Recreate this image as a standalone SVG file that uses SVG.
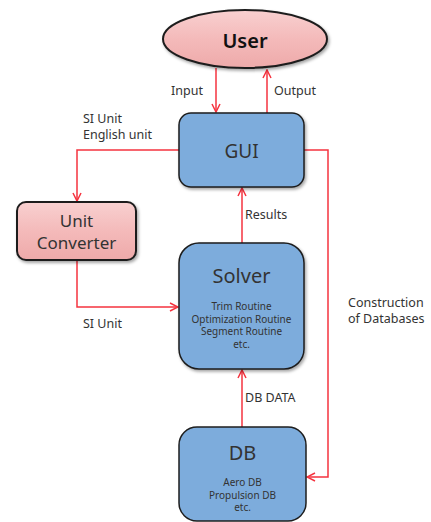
<svg xmlns="http://www.w3.org/2000/svg" width="431" height="522" viewBox="0 0 431 522">
<style>
.blue{fill:#7dacdc;stroke:#1e1e1e;stroke-width:1.5}
.pink{stroke:#1e1e1e;stroke-width:2}
.t{font-family:"Noto Sans","Open Sans",sans-serif;fill:#333;text-anchor:middle}
.l{font-family:"Noto Sans","Open Sans",sans-serif;fill:#333;font-size:12.5px}
.c{fill:none;stroke:#f5333f;stroke-width:1.5}
</style>
<defs>
<marker id="ah" viewBox="0 0 10 10" refX="9" refY="5" markerWidth="10" markerHeight="10" markerUnits="userSpaceOnUse" orient="auto">
<polyline points="1,1 9,5 1,9" fill="none" stroke="#f5333f" stroke-width="1.5"/>
</marker>
<filter id="sh" x="-10%" y="-10%" width="130%" height="130%">
<feDropShadow dx="1.5" dy="2" stdDeviation="1.5" flood-color="#000" flood-opacity="0.35"/>
</filter>
<linearGradient id="pg" x1="0" y1="0" x2="0" y2="1">
<stop offset="0" stop-color="#f8d0d0"/>
<stop offset="0.5" stop-color="#f4baba"/>
<stop offset="1" stop-color="#eeaaaa"/>
</linearGradient>
</defs>
<g id="connectors">
<line class="c" x1="216" y1="68" x2="216" y2="112" marker-end="url(#ah)"/>
<line class="c" x1="267" y1="113" x2="267" y2="70" marker-end="url(#ah)"/>
<polyline class="c" points="179,150 77,150 77,201" marker-end="url(#ah)"/>
<polyline class="c" points="304,150 328,150 328,477 307,477" marker-end="url(#ah)"/>
<polyline class="c" points="77,260 77,307 178,307" marker-end="url(#ah)"/>
<line class="c" x1="242" y1="243" x2="242" y2="188" marker-end="url(#ah)"/>
<line class="c" x1="242" y1="427" x2="242" y2="370" marker-end="url(#ah)"/>
<text class="l" x="171" y="95">Input</text>
<text class="l" x="274" y="95">Output</text>
<text class="l" x="83" y="123">SI Unit</text>
<text class="l" x="83" y="139">English unit</text>
<text class="l" x="245" y="219">Results</text>
<text class="l" x="83" y="328">SI Unit</text>
<text class="l" x="348" y="307">Construction</text>
<text class="l" x="348" y="323">of Databases</text>
<text class="l" x="245" y="402">DB DATA</text>
</g>
<g id="user">
<ellipse cx="245" cy="39" rx="82" ry="29" fill="url(#pg)" stroke="#1e1e1e" stroke-width="2" filter="url(#sh)"/>
<text class="t" x="245" y="48" font-size="20" font-weight="600" style="fill:#111">User</text>
</g>
<g id="gui">
<rect class="blue" x="179" y="113" width="125" height="74" rx="12" filter="url(#sh)"/>
<text class="t" x="241.5" y="158" font-size="19">GUI</text>
</g>
<g id="unit-converter">
<rect class="pink" x="17" y="202" width="119" height="58" rx="9" fill="url(#pg)" filter="url(#sh)"/>
<text class="t" x="76.5" y="227" font-size="17">Unit</text>
<text class="t" x="76.5" y="249" font-size="17">Converter</text>
</g>
<g id="solver">
<rect class="blue" x="179" y="243" width="125" height="126" rx="20" filter="url(#sh)"/>
<text class="t" x="241.5" y="283" font-size="20">Solver</text>
<text class="t" x="241.5" y="310" font-size="10">Trim Routine</text>
<text class="t" x="241.5" y="322.5" font-size="10">Optimization Routine</text>
<text class="t" x="241.5" y="335" font-size="10">Segment Routine</text>
<text class="t" x="241.5" y="347.5" font-size="10">etc.</text>
</g>
<g id="db">
<rect class="blue" x="179" y="427" width="127" height="94" rx="18"/>
<text class="t" x="242.5" y="460" font-size="20">DB</text>
<text class="t" x="242.5" y="486" font-size="10">Aero DB</text>
<text class="t" x="242.5" y="498.5" font-size="10">Propulsion DB</text>
<text class="t" x="242.5" y="511" font-size="10">etc.</text>
</g>
</svg>
